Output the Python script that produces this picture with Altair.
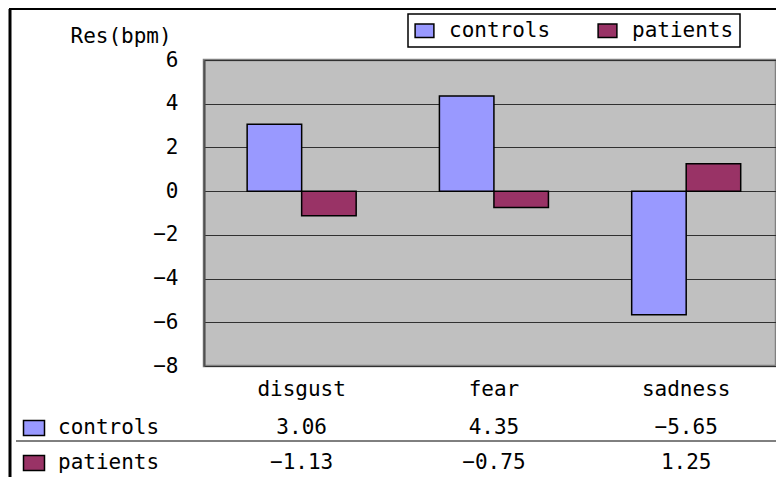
import altair as alt
import pandas as pd

categories = ["disgust", "fear", "sadness"]
series_names = ["controls", "patients"]
controls = [3.06, 4.35, -5.65]
patients = [-1.13, -0.75, 1.25]
y_ticks = [-8, -6, -4, -2, 0, 2, 4, 6]
colors = ["#9999FF", "#993366"]

rows = []
for name, vals in zip(series_names, [controls, patients]):
    for c, v in zip(categories, vals):
        rows.append({"category": c, "series": name, "value": v})
df = pd.DataFrame(rows)
labels_df = pd.DataFrame({"series": series_names})

FONT = "DejaVu Sans Mono"
FS = 21
KEY = "M-1.4,-1L1.4,-1L1.4,1L-1.4,1Z"

xscale = alt.Scale(domain=categories, paddingInner=0.433, paddingOuter=0.204, align=0.55)
cscale = alt.Scale(domain=series_names, range=colors)
row_scale = alt.Scale(type="point", domain=series_names, range=[368, 403], padding=0)

bars = alt.Chart(df).mark_bar(stroke="black", strokeWidth=1.5).encode(
    x=alt.X("category:N", scale=xscale, sort=categories,
            axis=alt.Axis(title=None, labelAngle=0, ticks=False, domain=False,
                          labelFontSize=FS, labelFont=FONT, labelColor="black",
                          labelPadding=12, labelBaseline="top")),
    xOffset=alt.XOffset("series:N", sort=series_names,
                        scale=alt.Scale(paddingInner=0, paddingOuter=0)),
    y=alt.Y("value:Q", scale=alt.Scale(domain=[-8, 6], nice=False, zero=True),
            axis=alt.Axis(values=y_ticks, format="d", ticks=False, domain=True,
                          domainColor="#505050", domainWidth=2,
                          grid=True, gridColor="#303030", gridWidth=1,
                          labelFontSize=FS, labelFont=FONT, labelColor="black",
                          labelPadding=26,
                          title="Res(bpm)", titleAngle=0, titleAlign="left",
                          titleBaseline="alphabetic", titleX=-134, titleY=-18,
                          titleFontSize=FS, titleFont=FONT, titleFontWeight="normal",
                          titleColor="black")),
    color=alt.Color("series:N", scale=cscale, sort=series_names,
                    legend=alt.Legend(title=None, orient="none", legendX=204, legendY=-46,
                                      direction="horizontal", symbolType=KEY,
                                      symbolSize=180, symbolStrokeColor="black",
                                      symbolStrokeWidth=1.5, symbolOpacity=1,
                                      labelFontSize=FS, labelFont=FONT, labelColor="black",
                                      columnPadding=44, labelOffset=14, padding=6,
                                      strokeColor="black", fillColor="white")),
)

table = alt.Chart(df).mark_text(fontSize=FS, font=FONT, color="black", baseline="middle").encode(
    x=alt.X("category:N", scale=xscale, sort=categories),
    y=alt.Y("series:N", scale=row_scale, axis=None),
    text=alt.Text("value:Q", format=".2f"),
)

row_labels = alt.Chart(labels_df).mark_text(fontSize=FS, font=FONT, color="black",
                                            align="left", baseline="middle").encode(
    x=alt.value(-146),
    y=alt.Y("series:N", scale=row_scale, axis=None),
    text="series:N",
)

row_keys = alt.Chart(labels_df).mark_point(shape=KEY, size=225, filled=True, stroke="black",
                                           strokeWidth=1.5, opacity=1).encode(
    x=alt.value(-170),
    y=alt.Y("series:N", scale=row_scale, axis=None),
    color=alt.Color("series:N", scale=cscale, sort=series_names),
)

deco = pd.DataFrame({"k": [0]})
table_line = alt.Chart(deco).mark_rule(color="black", strokeWidth=1).encode(
    x=alt.value(-188), x2=alt.value(572), y=alt.value(381))
frame_top = alt.Chart(deco).mark_rule(color="black", strokeWidth=2).encode(
    x=alt.value(-195), x2=alt.value(572), y=alt.value(-51))
frame_left = alt.Chart(deco).mark_rule(color="black", strokeWidth=3).encode(
    x=alt.value(-194), y=alt.value(-51), y2=alt.value(420))

chart = alt.layer(bars, table, row_labels, row_keys, table_line, frame_top, frame_left).resolve_scale(
    y="independent"
).properties(
    width=572, height=306,
    autosize=alt.AutoSizeParams(type="none"),
    padding={"left": 196, "top": 52, "right": 0, "bottom": 111},
    background="white",
).configure_view(
    fill="#C0C0C0", stroke="#808080", strokeWidth=2.5
).configure_legend(strokeWidth=1.5)

chart.save("out.html", embed_options={"renderer": "svg", "actions": False})
